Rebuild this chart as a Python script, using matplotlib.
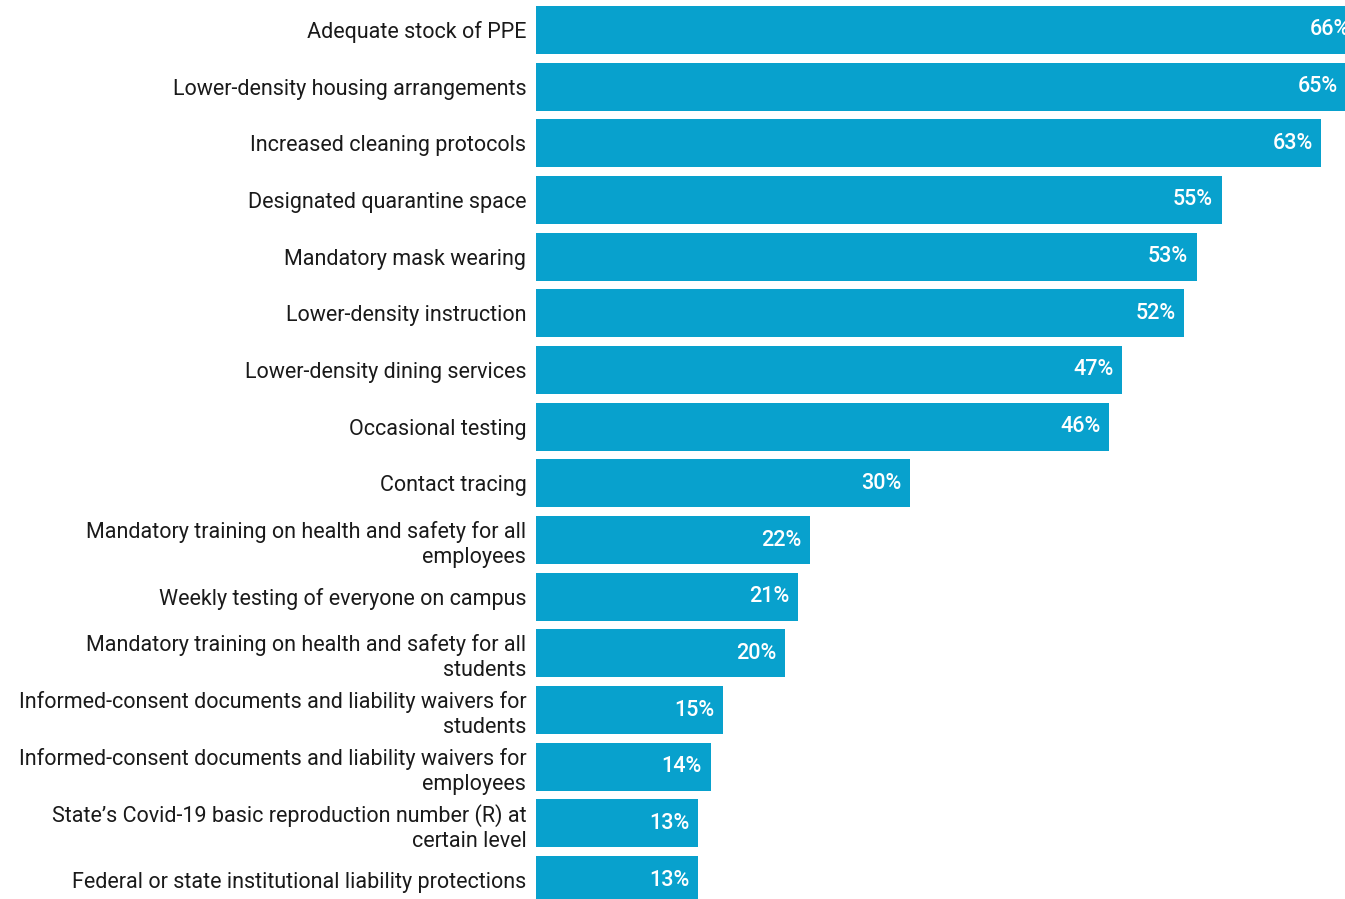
import matplotlib.pyplot as plt

plt.rcParams['font.family'] = ['Roboto', 'DejaVu Sans']

categories = [
    'Adequate stock of PPE',
    'Lower-density housing arrangements',
    'Increased cleaning protocols',
    'Designated quarantine space',
    'Mandatory mask wearing',
    'Lower-density instruction',
    'Lower-density dining services',
    'Occasional testing',
    'Contact tracing',
    'Mandatory training on health and safety for all\nemployees',
    'Weekly testing of everyone on campus',
    'Mandatory training on health and safety for all\nstudents',
    'Informed-consent documents and liability waivers for\nstudents',
    'Informed-consent documents and liability waivers for\nemployees',
    'State\u2019s Covid-19 basic reproduction number (R) at\ncertain level',
    'Federal or state institutional liability protections',
]
values = [66, 65, 63, 55, 53, 52, 47, 46, 30, 22, 21, 20, 15, 14, 13, 13]

fig = plt.figure(figsize=(13.45, 8.99), dpi=100)
ax = fig.add_axes([536 / 1345, 0, 1 - 536 / 1345, 1])

pos = list(range(len(categories)))
ax.barh(pos, values, height=0.85, color='#08a1cd')
ax.set_xlim(0, 64.9)
ax.set_ylim(15.335, -0.529)

ax.set_yticks(pos)
ax.set_yticklabels(categories, fontsize=15.5, color='#1a1a1a', linespacing=1.25)
ax.tick_params(axis='y', length=0, pad=7)
ax.set_xticks([])
for s in ax.spines.values():
    s.set_visible(False)

for p, v in zip(pos, values):
    ax.text(v - 0.7, p, f'{v}%', ha='right', va='center', color='white',
            fontsize=15.5, fontweight='medium', clip_on=True)

fig.savefig('out.png', dpi=100)
